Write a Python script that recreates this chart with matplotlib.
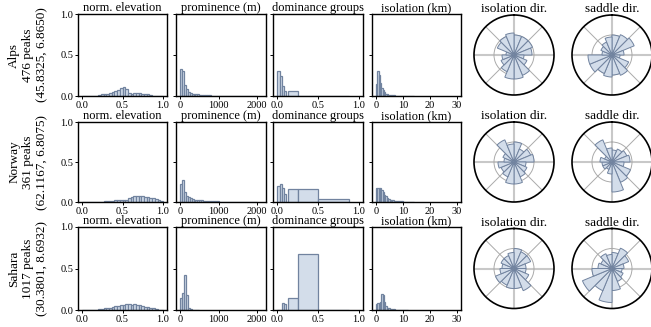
import numpy as np
import matplotlib
matplotlib.use("Agg")
import matplotlib.pyplot as plt

plt.rcParams['font.family'] = ['Liberation Serif', 'DejaVu Serif']

# ---- data ----
regions = ["Alps\n476 peaks\n(45.8325, 6.8650)",
           "Norway\n361 peaks\n(62.1167, 6.8075)",
           "Sahara\n1017 peaks\n(30.3801, 8.6932)"]

hist_titles = ["norm. elevation", "prominence (m)", "dominance groups", "isolation (km)"]
polar_titles = ["isolation dir.", "saddle dir."]

# norm. elevation, 30 bins over [0, 1]
elev_alps = [0.003, 0.003, 0.003, 0.003, 0.003, 0.004, 0.01, 0.02, 0.025, 0.03,
             0.035, 0.045, 0.06, 0.075, 0.1, 0.11, 0.08, 0.035, 0.03, 0.035,
             0.04, 0.035, 0.03, 0.025, 0.02, 0.012, 0.005, 0.002, 0.0, 0.0]
elev_norway = [0.002, 0.003, 0.004, 0.004, 0.005, 0.005, 0.006, 0.006, 0.008, 0.01,
               0.012, 0.015, 0.02, 0.02, 0.025, 0.03, 0.03, 0.045, 0.06, 0.07,
               0.075, 0.08, 0.07, 0.065, 0.06, 0.055, 0.05, 0.035, 0.02, 0.008]
elev_sahara = [0.0, 0.0, 0.0, 0.0, 0.0, 0.003, 0.008, 0.012, 0.02, 0.025,
               0.03, 0.04, 0.045, 0.05, 0.055, 0.06, 0.07, 0.068, 0.065, 0.07,
               0.065, 0.06, 0.05, 0.04, 0.035, 0.025, 0.02, 0.01, 0.005, 0.002]

# prominence, 50 m bins from 0
prom_alps = [0.33, 0.31, 0.14, 0.08, 0.05, 0.035, 0.03, 0.025, 0.02, 0.02,
             0.015, 0.012, 0.01, 0.01, 0.008, 0.008, 0.006, 0.006, 0.005, 0.005,
             0.004, 0.004, 0.003, 0.003, 0.003, 0.002, 0.002, 0.002, 0.002, 0.002,
             0.001, 0.001, 0.001, 0.001, 0.001, 0.001, 0.001, 0.001, 0.001, 0.001]
prom_norway = [0.22, 0.28, 0.12, 0.08, 0.06, 0.045, 0.035, 0.03, 0.03, 0.025,
               0.02, 0.02, 0.015, 0.015, 0.012, 0.01, 0.01, 0.01, 0.008, 0.008,
               0.006, 0.006, 0.005, 0.005, 0.004, 0.004, 0.003, 0.003, 0.003, 0.002,
               0.002, 0.002, 0.002, 0.001, 0.001, 0.001, 0.001, 0.001, 0.001, 0.001]
prom_sahara = [0.14, 0.2, 0.42, 0.18, 0.03, 0.01, 0.005, 0.003, 0.002, 0.001]

# dominance groups, uneven bins
dom_edges = [0.0, 0.03, 0.06, 0.09, 0.11, 0.13, 0.25, 0.5, 0.88]
dom_alps = [0.31, 0.25, 0.12, 0.06, 0.0, 0.06, 0.0, 0.0]
dom_norway = [0.2, 0.22, 0.18, 0.1, 0.0, 0.16, 0.16, 0.04]
dom_sahara = [0.0, 0.0, 0.08, 0.07, 0.0, 0.15, 0.68, 0.0]

# isolation, 0.5 km bins from 0
iso_alps = [0.15, 0.3, 0.26, 0.16, 0.1, 0.07, 0.045, 0.03, 0.02, 0.015,
            0.012, 0.01, 0.008, 0.007, 0.006, 0.005, 0.004, 0.004, 0.003, 0.003,
            0.002, 0.002, 0.002, 0.002, 0.001, 0.001, 0.001, 0.001]
iso_norway = [0.17, 0.17, 0.17, 0.17, 0.15, 0.12, 0.09, 0.07, 0.05, 0.04,
              0.03, 0.025, 0.02, 0.018, 0.015, 0.012, 0.01, 0.01, 0.008, 0.008,
              0.006, 0.005, 0.004, 0.004, 0.003, 0.003, 0.002, 0.002]
iso_sahara = [0.07, 0.08, 0.09, 0.1, 0.19, 0.18, 0.1, 0.05, 0.03, 0.02,
              0.015, 0.012, 0.01, 0.008, 0.006, 0.005, 0.004, 0.004, 0.003, 0.003,
              0.002, 0.002, 0.001, 0.001]

# direction roses, 16 sectors clockwise from north
isodir_alps = [0.5, 0.5, 0.5, 0.45, 0.25, 0.35, 0.55, 0.6, 0.6, 0.45, 0.35, 0.3, 0.2, 0.45, 0.5, 0.55]
sadir_alps = [0.5, 0.55, 0.6, 0.3, 0.2, 0.45, 0.55, 0.5, 0.55, 0.5, 0.6, 0.6, 0.25, 0.3, 0.35, 0.45]
isodir_norway = [0.5, 0.35, 0.45, 0.5, 0.3, 0.35, 0.4, 0.55, 0.55, 0.4, 0.35, 0.4, 0.25, 0.3, 0.6, 0.45]
sadir_norway = [0.3, 0.35, 0.4, 0.45, 0.3, 0.5, 0.55, 0.75, 0.3, 0.2, 0.25, 0.25, 0.3, 0.2, 0.6, 0.35]
isodir_sahara = [0.5, 0.45, 0.45, 0.3, 0.3, 0.4, 0.6, 0.5, 0.5, 0.45, 0.5, 0.35, 0.3, 0.35, 0.35, 0.4]
sadir_sahara = [0.4, 0.55, 0.45, 0.3, 0.25, 0.3, 0.35, 0.55, 0.85, 0.6, 0.8, 0.5, 0.35, 0.3, 0.4, 0.35]

elev = [elev_alps, elev_norway, elev_sahara]
prom = [prom_alps, prom_norway, prom_sahara]
dom = [dom_alps, dom_norway, dom_sahara]
iso = [iso_alps, iso_norway, iso_sahara]
isodir = [isodir_alps, isodir_norway, isodir_sahara]
sadir = [sadir_alps, sadir_norway, sadir_sahara]

# ---- layout ----
W, H = 651, 327
fig = plt.figure(figsize=(W / 100, H / 100), dpi=100)

FACE = '#d3ddea'
EDGE = '#71839f'

cols = [(78, 167), (176, 266), (273, 363), (372, 461)]
rows = [(14, 96), (122, 202), (227, 310)]
polar_cx = [514, 612]
R = 40


def px_axes(x0, x1, y0, y1, **kw):
    return fig.add_axes([x0 / W, 1 - y1 / H, (x1 - x0) / W, (y1 - y0) / H], **kw)


def bars(ax, edges, vals):
    edges = np.asarray(edges, dtype=float)
    ax.bar(edges[:-1], vals, width=np.diff(edges), align='edge',
           facecolor=FACE, edgecolor=EDGE, linewidth=0.9)


for r, (y0, y1) in enumerate(rows):
    fig.text(28 / W, 1 - (y0 + y1) / 2 / H, regions[r], rotation=90,
             ha='center', va='center', multialignment='center', fontsize=9.5)

    datasets = [
        (np.linspace(0, 1, len(elev[r]) + 1), elev[r], (-0.05, 1.05), [0, 0.5, 1.0], ['0.0', '0.5', '1.0']),
        (np.arange(len(prom[r]) + 1) * 50.0, prom[r], (-105, 2230), [0, 1000, 2000], ['0', '1000', '2000']),
        (dom_edges, dom[r], (-0.05, 1.05), [0, 0.5, 1.0], ['0.0', '0.5', '1.0']),
        (np.arange(len(iso[r]) + 1) * 0.5, iso[r], (-1.5, 31.5), [0, 10, 20, 30], ['0', '10', '20', '30']),
    ]
    for c, (x0, x1) in enumerate(cols):
        ax = px_axes(x0, x1, y0, y1)
        edges, vals, xl, xt, xtl = datasets[c]
        bars(ax, edges, vals)
        ax.set_xlim(*xl)
        ax.set_ylim(0, 1)
        ax.set_xticks(xt)
        ax.set_xticklabels(xtl)
        ax.set_yticks([0, 0.5, 1.0])
        if c == 0:
            ax.set_yticklabels(['0.0', '0.5', '1.0'])
        else:
            ax.set_yticklabels([])
        ax.tick_params(labelsize=7.5, length=2.5, width=0.7, pad=1)
        for s in ax.spines.values():
            s.set_linewidth(1.0)
        ax.set_title(hist_titles[c], fontsize=9, pad=1.5)

    cy = (y0 + y1) / 2
    roses = [isodir[r], sadir[r]]
    for k, cx in enumerate(polar_cx):
        ax = px_axes(cx - R, cx + R, cy - R, cy + R, projection='polar')
        ax.set_theta_zero_location('N')
        ax.set_theta_direction(-1)
        n = len(roses[k])
        theta = np.deg2rad(np.arange(n) * 360.0 / n)
        ax.bar(theta, roses[k], width=2 * np.pi / n, align='edge',
               facecolor=FACE, edgecolor=EDGE, linewidth=0.7, zorder=3)
        ax.set_ylim(0, 1)
        ax.set_xticks(np.deg2rad([45, 135, 225, 315]))
        ax.set_xticklabels([])
        ax.set_yticks([0.5])
        ax.set_yticklabels([])
        ax.grid(True, color='#aaaaaa', linewidth=0.7)
        for ang in [0, 90, 180, 270]:
            ax.plot([np.deg2rad(ang)] * 2, [0, 1], color='#c8c8c8', linewidth=1.5, zorder=1)
        ax.spines['polar'].set_linewidth(1.2)
        ax.set_title(polar_titles[k], fontsize=9.5, pad=1.5)

fig.savefig('out.png', dpi=100)
